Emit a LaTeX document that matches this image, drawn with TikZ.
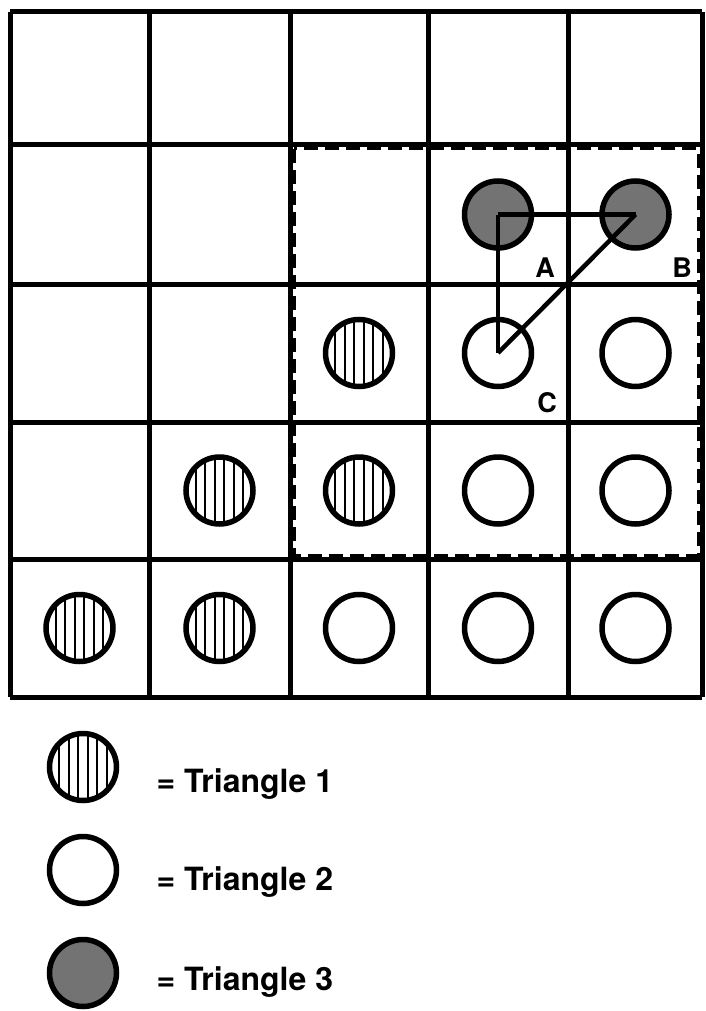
\documentclass[tikz,border=0pt]{standalone}
\usepackage{fontspec}
\setmainfont{TeX Gyre Heros}
\usetikzlibrary{positioning}

\begin{document}
\begin{tikzpicture}[x=1pt,y=-1pt,
        mriz/.style={line width=5pt},
        kruh/.style={circle,draw,line width=5.5pt,minimum size=67pt,inner sep=0pt},
        svisle/.style={kruh,path picture={
            \foreach \i in {-4,...,3}
                \draw[line width=1.7pt] ([xshift=(\i+0.5)*9.5pt]path picture bounding box.north)
                    -- ([xshift=(\i+0.5)*9.5pt]path picture bounding box.south);}},
        tmavy/.style={kruh,fill=black!55},
        popis/.style={font=\bfseries\fontsize{27}{27}\selectfont,anchor=base},
        legenda/.style={font=\bfseries\fontsize{32}{32}\selectfont,anchor=base west}]
        \useasboundingbox (0,0) rectangle (705,1011);

        % mrizka
        \foreach \x in {10,149,290,428,568,702}
            \draw[mriz] (\x,12) -- (\x,697);
        \foreach \y in {12,145,284,422,559,697}
            \draw[mriz] (10,\y) -- (702,\y);

        % oblast
        \draw[line width=3pt,dash pattern=on 14pt off 7pt] (294,149) rectangle (698,555);

        % kruhy
        \node[svisle] (h1) at (359,353) {};
        \node[svisle] (h2) at (219.5,490.5) {};
        \node[svisle] (h3) at (359,490.5) {};
        \node[svisle] (h4) at (79.5,628) {};
        \node[svisle] (h5) at (219.5,628) {};
        \node[kruh] (C) at (498,353) {};
        \node[kruh] (o1) at (635.5,353) {};
        \node[kruh] (o2) at (498,490.5) {};
        \node[kruh] (o3) at (635.5,490.5) {};
        \node[kruh] (o4) at (359,628) {};
        \node[kruh] (o5) at (498,628) {};
        \node[kruh] (o6) at (635.5,628) {};
        \node[tmavy] (A) at (498,214.5) {};
        \node[tmavy] (B) at (635.5,214.5) {};

        % trojuhelnik
        \draw[line width=4.5pt] (A.center) -- (B.center);
        \draw[line width=4.5pt] (A.center) -- (C.center);
        \draw[line width=4.5pt] (C.center) -- (B.center);

        \node[popis] (la) at (545,277) {A};
        \node[popis] (lb) at (682,277) {B};
        \node[popis] (lc) at (547,412) {C};

        % legenda
        \node[svisle] (k1) at (83,767) {};
        \node[kruh] (k2) at (83,870) {};
        \node[tmavy] (k3) at (83,973) {};
        \node[legenda] (t1) at (153,792) {= Triangle 1};
        \node[legenda] (t2) at (153,890) {= Triangle 2};
        \node[legenda] (t3) at (153,990) {= Triangle 3};

    \end{tikzpicture}
\end{document}
